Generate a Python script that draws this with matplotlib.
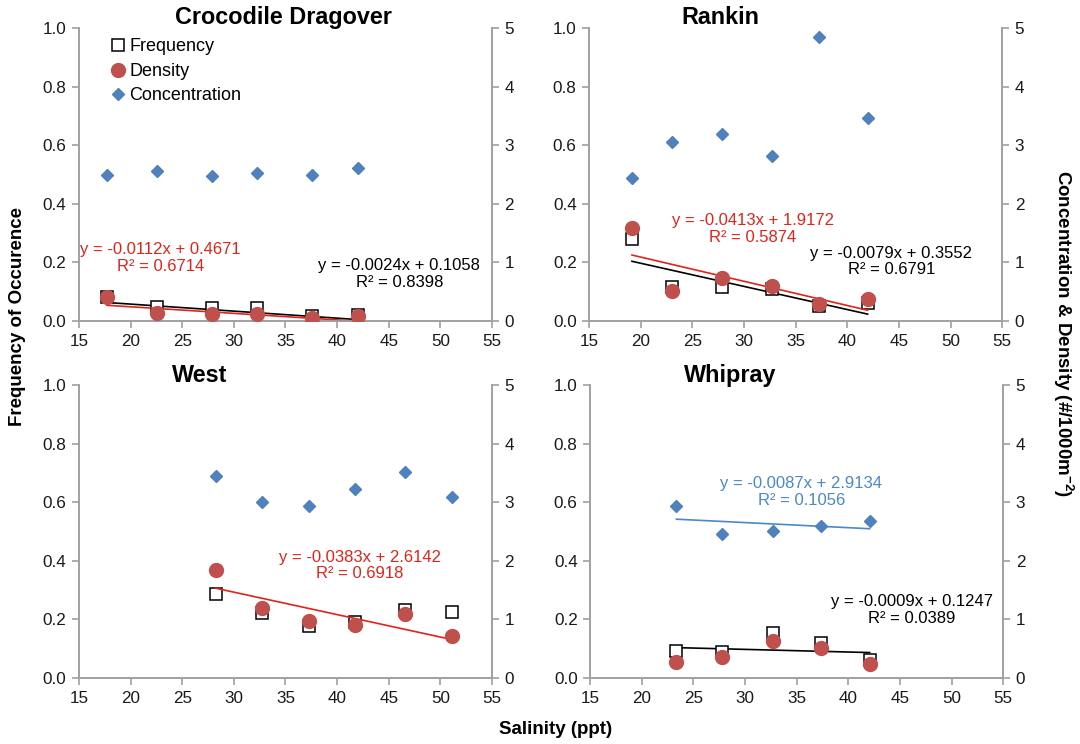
import numpy as np
import matplotlib.pyplot as plt
from matplotlib.lines import Line2D

plt.rcParams['font.family'] = ['Liberation Sans', 'DejaVu Sans']
plt.rcParams['mathtext.fontset'] = 'custom'
plt.rcParams['mathtext.rm'] = 'Liberation Sans'
plt.rcParams['mathtext.bf'] = 'Liberation Sans:bold'

# ---- data ----
sites = ['Crocodile Dragover', 'Rankin', 'West', 'Whipray']

# salinity (ppt) per sampling station
croc_sal = [17.7, 22.6, 27.9, 32.25, 37.55, 42.05]
rank_sal = [19.15, 23.0, 27.9, 32.7, 37.3, 41.97]
west_sal = [28.25, 32.75, 37.32, 41.75, 46.62, 51.1]
whip_sal = [23.35, 27.73, 32.7, 37.4, 42.07]

# frequency of occurence (left axis)
croc_freq = [0.083, 0.049, 0.043, 0.043, 0.017, 0.020]
rank_freq = [0.280, 0.117, 0.117, 0.109, 0.051, 0.062]
west_freq = [0.288, 0.222, 0.176, 0.190, 0.231, 0.224]
whip_freq = [0.093, 0.090, 0.153, 0.119, 0.062]

# density (#/1000m-2, right axis)
croc_dens = [0.415, 0.14, 0.12, 0.12, 0.057, 0.085]
rank_dens = [1.58, 0.52, 0.74, 0.60, 0.29, 0.38]
west_dens = [1.85, 1.20, 0.98, 0.91, 1.09, 0.71]
whip_dens = [0.27, 0.36, 0.64, 0.51, 0.24]

# concentration (right axis)
croc_conc = [2.50, 2.56, 2.47, 2.53, 2.50, 2.61]
rank_conc = [2.44, 3.05, 3.20, 2.82, 4.84, 3.46]
west_conc = [3.44, 3.00, 2.94, 3.23, 3.52, 3.09]
whip_conc = [2.94, 2.45, 2.51, 2.59, 2.68]

# linear trendlines as reported: (series, slope, intercept, r2)
croc_trends = [('dens', -0.0112, 0.4671, 0.6714), ('freq', -0.0024, 0.1058, 0.8398)]
rank_trends = [('dens', -0.0413, 1.9172, 0.5874), ('freq', -0.0079, 0.3552, 0.6791)]
west_trends = [('dens', -0.0383, 2.6142, 0.6918)]
whip_trends = [('conc', -0.0087, 2.9134, 0.1056), ('freq', -0.0009, 0.1247, 0.0389)]

# ---- styling / layout ----
RED_PT = '#C0504D'
BLUE_PT = '#4F81BD'
RED_TXT = '#E2231A'
BLUE_TXT = '#4A88CA'
GRAY = '#A0A0A0'

panel_pos = [[0.0731, 0.5685, 0.3824, 0.3938],
             [0.5455, 0.5685, 0.3824, 0.3938],
             [0.0731, 0.0887, 0.3824, 0.3938],
             [0.5465, 0.0887, 0.3824, 0.3938]]
title_xy = [(0.494, 1.036), (0.317, 1.036), (0.293, 1.032), (0.340, 1.032)]
# label placement (axes fraction) for each trend equation
eq_xy = [[(0.197, 0.215), (0.776, 0.160)],
         [(0.396, 0.314), (0.732, 0.203)],
         [(0.680, 0.384)],
         [(0.511, 0.635), (0.778, 0.232)]]

all_sal = [croc_sal, rank_sal, west_sal, whip_sal]
all_freq = [croc_freq, rank_freq, west_freq, whip_freq]
all_dens = [croc_dens, rank_dens, west_dens, whip_dens]
all_conc = [croc_conc, rank_conc, west_conc, whip_conc]
all_trends = [croc_trends, rank_trends, west_trends, whip_trends]

fig = plt.figure(figsize=(10.8, 7.44), dpi=100)

for i, site in enumerate(sites):
    ax = fig.add_axes(panel_pos[i])
    ax2 = ax.twinx()
    sal = np.array(all_sal[i])

    ax.plot(sal, all_freq[i], 's', ms=9, mfc='white', mec='black', mew=1.1, zorder=3)
    ax2.plot(sal, all_dens[i], 'o', ms=10, color=RED_PT, zorder=3)
    ax2.plot(sal, all_conc[i], 'D', ms=6, color=BLUE_PT, zorder=3)

    xs = np.array([sal.min(), sal.max()])
    for k, (ser, m, b, r2) in enumerate(all_trends[i]):
        if ser == 'freq':
            tax, col = ax, 'black'
        elif ser == 'dens':
            tax, col = ax2, RED_TXT
        else:
            tax, col = ax2, BLUE_TXT
        tax.plot(xs, m * xs + b, '-', color=col, lw=1.2, zorder=2)
        sign = '-' if b < 0 else '+'
        txt = f'y = {m:.4f}x {sign} {abs(b):.4f}\nR² = {r2:.4f}'
        ex, ey = eq_xy[i][k]
        ax.text(ex, ey, txt, transform=ax.transAxes, ha='center', va='center',
                fontsize=12, color=col, linespacing=1.15, zorder=5)

    ax.set_xlim(15, 55)
    ax.set_ylim(0, 1.0)
    ax2.set_ylim(0, 5)
    ax.set_xticks(np.arange(15, 56, 5))
    ax.set_yticks(np.arange(0, 1.01, 0.2))
    ax.set_yticklabels([f'{v:.1f}' for v in np.arange(0, 1.01, 0.2)])
    ax2.set_yticks(range(0, 6))

    for a in (ax, ax2):
        a.spines['top'].set_visible(False)
        for s in ('left', 'right', 'bottom'):
            a.spines[s].set_color(GRAY)
            a.spines[s].set_linewidth(1.2)
        a.tick_params(direction='out', length=5, width=1.2, color=GRAY,
                      labelsize=12.3, labelcolor='#1a1a1a', pad=4)

    tx, ty = title_xy[i]
    ax.text(tx, ty, site, transform=ax.transAxes, ha='center', va='center',
            fontsize=16.8, fontweight='bold')

    if i == 0:
        handles = [Line2D([], [], ls='', marker='s', ms=8, mfc='white', mec='black', mew=1.1),
                   Line2D([], [], ls='', marker='o', ms=10, color=RED_PT),
                   Line2D([], [], ls='', marker='D', ms=6, color=BLUE_PT)]
        ax.legend(handles, ['Frequency', 'Density', 'Concentration'],
                  loc='upper left', bbox_to_anchor=(0.082, 0.965), frameon=False,
                  fontsize=13, handlelength=0.6, handletextpad=0.3,
                  labelspacing=0.42, borderaxespad=0, borderpad=0)

fig.text(0.016, 0.574, 'Frequency of Occurence', rotation=90, ha='center', va='center',
         fontsize=13.5, fontweight='bold')
fig.text(0.985, 0.551, r'Concentration & Density (#/1000m$^{\mathbf{-2}}$)', rotation=270,
         ha='center', va='center', fontsize=13.5, fontweight='bold')
fig.text(0.514, 0.020, 'Salinity (ppt)', ha='center', va='center',
         fontsize=13.5, fontweight='bold')

fig.savefig('out.png', dpi=100)
